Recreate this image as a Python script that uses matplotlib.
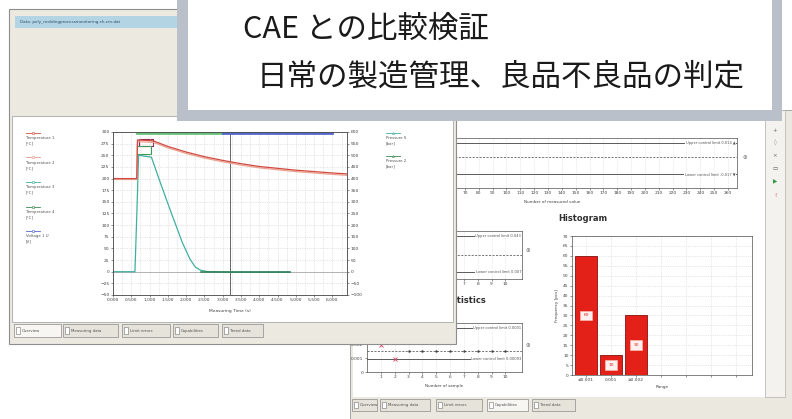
import numpy as np
import matplotlib.pyplot as plt
from matplotlib.patches import Rectangle

plt.rcParams['font.family'] = ['DejaVu Sans']

W, H = 792, 419

# ---- overlay caption
caption_1 = "CAE との比較検証"
caption_2 = "日常の製造管理、良品不良品の判定"

# ---- left window: process curves over the measuring time
time_ticks = [0.0, 0.5, 1.0, 1.5, 2.0, 2.5, 3.0, 3.5, 4.0, 4.5, 5.0, 5.5, 6.0]
left_ticks = [-50, -25, 0, 25, 50, 75, 100, 125, 150, 175, 200, 225, 250, 275, 300]
right_ticks = [-100, -50, 0, 50, 100, 150, 200, 250, 300, 350, 400, 450, 500, 550, 600]

temp1_t = [0, 0.65, 0.67, 1.1, 1.5, 2.0, 2.5, 3.0, 3.5, 4.0, 4.5, 5.0, 5.5, 6.0, 6.4]
temp1_v = [200, 200, 283, 281, 269, 257, 247, 239, 232, 226, 222, 218, 215, 212, 210]
temp2_v = [198, 198, 279, 278, 266, 254, 244, 236, 229, 223, 219, 215, 212, 209, 207]

press_t = [0, 0.6, 0.65, 0.7, 1.05, 1.3, 1.6, 1.9, 2.1, 2.25, 2.4, 2.6, 3.25, 4.0, 4.85]
press_v = [0, 0, 120, 250, 246, 190, 125, 62, 28, 10, 3, 0, -1, -1, -1]
hold_t = [2.4, 4.85]
hold_v = [-1, -1]

status_t = [0.65, 3.0, 6.0]
cursor_t = 3.2

left_legend = ["Temperature 1\n[°C]", "Temperature 2\n[°C]", "Temperature 3\n[°C]",
               "Temperature 4\n[°C]", "Voltage 1 U\n[V]"]
left_legend_col = ["#d04a40", "#e89a8c", "#3fb0a0", "#3a8a50", "#5566cc"]
right_legend = ["Pressure S\n[bar]", "Pressure 2\n[bar]"]
right_legend_col = ["#3fb0a0", "#3a8a50"]
tab_names = ["Overview", "Measuring data", "Limit errors", "Capabilities", "Trend data"]

# ---- right window: control charts and histogram
top_limits = [0.014, 0.0, -0.017]
top_ticks = list(range(0, 261, 10))
mid_limits = [0.043, 0.024, 0.007]
low_limits = [0.00314, 0.0015, 0.00093]
sample_no = [1, 2, 3, 4, 5, 6, 7, 8, 9, 10]
low_means = [0.0019, 0.0009, 0.0015, 0.0015, 0.0015, 0.0015, 0.0015, 0.0015, 0.0015, 0.0015]
hist_labels = ["≤0.001", "0.001", "≥0.002"]
hist_counts = [60, 10, 30]

fig = plt.figure(figsize=(W / 100, H / 100), dpi=100)
fig.patch.set_facecolor("white")


def layer(z):
    ax = fig.add_axes([0, 0, 1, 1], zorder=z)
    ax.set_xlim(0, W)
    ax.set_ylim(H, 0)
    ax.axis("off")
    return ax


def box(x0, y0, x1, y1, z):
    return fig.add_axes([x0 / W, 1 - y1 / H, (x1 - x0) / W, (y1 - y0) / H], zorder=z)


def rect(ax, x0, y0, x1, y1, fc, ec="none", lw=0.6):
    ax.add_patch(Rectangle((x0, y0), x1 - x0, y1 - y0, fc=fc, ec=ec, lw=lw))


def small_axes(ax, fs=3.2):
    ax.tick_params(labelsize=fs, length=1.5, width=0.4, pad=1, colors="#404040")
    for s in ax.spines.values():
        s.set_linewidth(0.5)
        s.set_color("#505050")


def tabs(ax, spots, y0, y1, selected):
    for i, (x0, x1, name) in enumerate(spots):
        fc = "#f7f6f2" if i == selected else "#e6e3da"
        rect(ax, x0, y0, x1, y1, fc, "#8a8a8a", 0.5)
        rect(ax, x0 + 2, y0 + 3, x0 + 6, y1 - 3, "white", "#707070", 0.4)
        ax.text(x0 + 8, (y0 + y1) / 2, name, fontsize=2.8, color="#505050", va="center")


# ================= right window (behind) =================
bg = layer(0)
rect(bg, 350, 110, 792, 419, "#ebe8e0", "#9a9a9a")
rect(bg, 353, 110, 765, 397, "white")
rect(bg, 765, 110, 785, 397, "#f3f2ee", "#b0b0b0", 0.5)
tools = [("+", "#707070"), ("◊", "#909090"), ("×", "#707070"), ("▭", "#606060"),
         ("▶", "#2e9a3e"), ("!", "#d04040")]
for i, (g, c) in enumerate(tools):
    bg.text(775, 130 + i * 13, g, fontsize=4, color=c, ha="center", va="center")
bg.text(583, 218, "Histogram", fontsize=6, fontweight="bold", color="#303030",
        ha="center", va="center")
bg.text(486, 300, "Statistics", fontsize=6, fontweight="bold", color="#303030",
        ha="right", va="center")
bg.text(745, 157, "⊕", fontsize=4, color="#707070", ha="center", va="center")
bg.text(528, 250, "⊕", fontsize=4, color="#707070", ha="center", va="center")
bg.text(528, 345, "⊕", fontsize=4, color="#707070", ha="center", va="center")
tabs(bg, [(352, 377, tab_names[0]), (380, 430, tab_names[1]), (436, 482, tab_names[2]),
          (487, 528, tab_names[3]), (532, 575, tab_names[4])], 399, 411, 3)


def control_chart(ax, limits, labels):
    ucl, cl, lcl = limits
    ax.axhline(ucl, color="#404040", lw=0.6)
    ax.axhline(cl, color="#404040", lw=0.5, ls=(0, (3, 2)))
    ax.axhline(lcl, color="#404040", lw=0.6)
    x1 = ax.get_xlim()[1]
    for v, lab in zip([ucl, lcl], labels):
        ax.text(x1 * 0.995, v, lab, fontsize=2.6, color="#505050", ha="right", va="center",
                bbox=dict(fc="white", ec="none", pad=0.3))
    ax.grid(axis="x", color="#d8d8d8", lw=0.4, ls=(0, (2, 2)))
    small_axes(ax)


top = box(368, 138, 737, 188, 1)
top.set_xlim(0, 266.5)
top.set_ylim(-0.031, 0.019)
top.set_xticks(top_ticks)
top.set_yticks([])
control_chart(top, top_limits, ["Upper control limit 0.014 ▲", "Lower control limit -0.017 ▼"])
top.set_xlabel("Number of measured value", fontsize=3, labelpad=3, color="#404040")

mid = box(367, 231, 522, 279, 1)
mid.set_xlim(0, 11.2)
mid.set_ylim(0, 0.048)
mid.set_xticks(sample_no)
mid.set_yticks([])
control_chart(mid, mid_limits, ["Upper control limit 0.043", "Lower control limit 0.007"])

low = box(367, 323, 522, 372, 1)
low.set_xlim(0, 11.2)
low.set_ylim(0, 0.0035)
low.set_xticks(sample_no)
low.set_yticks([0, 0.001, 0.002, 0.003])
low.set_yticklabels(["0", "0.001", "0.002", "0.003"])
control_chart(low, low_limits, ["Upper control limit 0.0031", "Lower control limit 0.00093"])
low.plot(sample_no[2:], low_means[2:], ls="none", marker=".", ms=1.5, color="#404040")
low.plot(sample_no[:2], low_means[:2], ls="none", marker="x", ms=2.5, mew=0.6, color="#e04060")
low.set_xlabel("Number of sample", fontsize=3, labelpad=3, color="#404040")

hist = box(572, 236, 752, 375, 1)
bars = hist.bar(range(len(hist_counts)), hist_counts, width=0.88, color="#e32119",
                edgecolor="#8a1010", lw=0.6, zorder=3)
for i, c in enumerate(hist_counts):
    hist.text(i, c / 2, str(c), fontsize=3.2, color="#e32119", ha="center", va="center",
              zorder=4, bbox=dict(fc="#fdf0ee", ec="#f3b8b0", pad=2.0, lw=0.5))
hist.set_xlim(-0.56, 6.64)
hist.set_ylim(0, 70)
hist.set_yticks(range(0, 71, 5))
hist.set_xticks(range(7))
hist.set_xticklabels(hist_labels + [""] * 4)
hist.grid(color="#d4d4d4", lw=0.4, ls=(0, (2, 2)))
hist.set_axisbelow(True)
small_axes(hist)
hist.set_ylabel("Frequency [pcs]", fontsize=3, labelpad=3, color="#404040")
hist.set_xlabel("Range", fontsize=3, labelpad=2, color="#404040")

# ================= left window =================
lw_ax = layer(5)
rect(lw_ax, 9, 9, 456, 344, "#ece9e1", "#8e8e8e", 0.8)
rect(lw_ax, 15, 16, 456, 28, "#b3d4e3")
lw_ax.text(20, 22, "Data: poly_moldingprocessmonitoring.ch.cm.dat", fontsize=3,
           color="#2f4f66", va="center")
rect(lw_ax, 12, 116, 453, 322, "white", "#a8a8a8", 0.6)
tabs(lw_ax, [(14, 61, tab_names[0]), (63, 118, tab_names[1]), (122, 170, tab_names[2]),
             (173, 218, tab_names[3]), (222, 263, tab_names[4])], 324, 337, 0)

for i, (lab, c) in enumerate(zip(left_legend, left_legend_col)):
    y = 133 + i * 24.5
    lw_ax.plot([26, 40], [y, y], color=c, lw=0.6)
    lw_ax.plot([33], [y], marker="s", ms=1.5, mfc="white", mec=c, mew=0.4)
    lw_ax.text(26, y + 3, lab, fontsize=2.8, color="#505050", va="top", linespacing=1.5)
for i, (lab, c) in enumerate(zip(right_legend, right_legend_col)):
    y = 133 + i * 23
    lw_ax.plot([386, 400], [y, y], color=c, lw=0.6)
    lw_ax.plot([393], [y], marker="^", ms=1.5, mfc="white", mec=c, mew=0.4)
    lw_ax.text(386, y + 3, lab, fontsize=2.8, color="#505050", va="top", linespacing=1.5)

pc = box(113, 132, 347, 295, 6)
pc.set_xlim(0, 6.4)
pc.set_ylim(-50, 300)
pc.set_xticks(time_ticks)
pc.set_xticklabels([f"{t:.3f}" for t in time_ticks])
pc.set_xticks(np.arange(0.25, 6.4, 0.5), minor=True)
pc.set_yticks(left_ticks)
pc.grid(which="both", color="#cfcfcf", lw=0.4, ls=(0, (2, 2)))
small_axes(pc)
pc.tick_params(which="minor", length=0)
pc.axhline(0, color="#9a9a9a", lw=0.5)
pc.axvline(cursor_t, color="#505050", lw=0.6)
pc.plot(press_t, press_v, color="#3fb0a0", lw=0.9)
pc.plot(hold_t, hold_v, color="#2e7d4f", lw=1.1)
pc.plot(temp1_t, temp2_v, color="#eda090", lw=0.9)
pc.plot(temp1_t, temp1_v, color="#d04a40", lw=0.9)
pc.add_patch(Rectangle((0.7, 271), 0.4, 13, fill=False, ec="#8b2252", lw=0.8))
pc.add_patch(Rectangle((0.67, 253), 0.38, 17, fill=False, ec="#3a9a5a", lw=0.8))
pc.plot(status_t[:2], [297, 297], color="#66c27a", lw=2)
pc.plot(status_t[1:], [297, 297], color="#5566cc", lw=2)
pc.set_xlabel("Measuring Time (s)", fontsize=3.2, labelpad=5, color="#404040")
pr = pc.twinx()
pr.set_ylim(-100, 600)
pr.set_yticks(right_ticks)
small_axes(pr)

# ================= caption overlay =================
ov = layer(10)
rect(ov, 177, -5, 782, 121, "#b9c0c9")
rect(ov, 188, -5, 772, 110, "white")
ov.text(243, 29, caption_1, fontsize=22, color="#1a1a1a", va="center",
        family=["Noto Sans CJK JP", "DejaVu Sans"])
ov.text(257, 77, caption_2, fontsize=22, color="#1a1a1a", va="center",
        family=["Noto Sans CJK JP", "DejaVu Sans"])

fig.savefig("out.png", dpi=100)
